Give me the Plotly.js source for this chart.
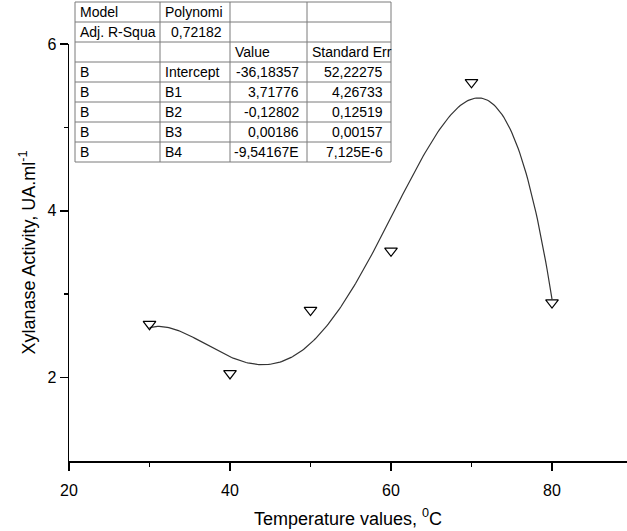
<!DOCTYPE html>
<html>
<head>
<meta charset="utf-8">
<script src="https://cdn.plot.ly/plotly-3.0.1.min.js"></script>
<style>html,body{margin:0;padding:0;background:#fff;}#chart{width:627px;height:531px;}</style>
</head>
<body>
<div id="chart"></div>
<script>
// Data
const temperature = [30, 40, 50, 60, 70, 80];
const activity = [2.64, 2.05, 2.81, 3.52, 5.54, 2.90];

const xTicks = [20, 40, 60, 80];
const xMinorTicks = [30, 50, 70];
const yTicks = [2, 4, 6];
const yMinorTicks = [3, 5];

// Fit parameter table (text as printed)
const tableCol1 = ["Model", "Adj. R-Squa", "", "B", "B", "B", "B", "B"];
const tableCol2 = ["Polynomi", "0,72182", "", "Intercept", "B1", "B2", "B3", "B4"];
const tableCol3 = ["", "", "Value", "-36,18357", "3,71776", "-0,12802", "0,00186", "-9,54167E"];
const tableCol4 = ["", "", "Standard Err", "52,22275", "4,26733", "0,12519", "0,00157", "7,125E-6"];

// 4th order polynomial least-squares fit of the data
function polyFit(xs, ys, deg, xc, xs_) {
  const n = deg + 1;
  const A = Array.from({length: n}, () => new Array(n + 1).fill(0));
  for (let k = 0; k < xs.length; k++) {
    const t = (xs[k] - xc) / xs_;
    const pw = [];
    for (let i = 0; i < n; i++) pw.push(Math.pow(t, i));
    for (let i = 0; i < n; i++) {
      for (let j = 0; j < n; j++) A[i][j] += pw[i] * pw[j];
      A[i][n] += pw[i] * ys[k];
    }
  }
  for (let i = 0; i < n; i++) {
    let p = i;
    for (let r = i + 1; r < n; r++) if (Math.abs(A[r][i]) > Math.abs(A[p][i])) p = r;
    [A[i], A[p]] = [A[p], A[i]];
    for (let r = 0; r < n; r++) {
      if (r === i) continue;
      const f = A[r][i] / A[i][i];
      for (let c = i; c <= n; c++) A[r][c] -= f * A[i][c];
    }
  }
  return A.map((row, i) => row[n] / row[i]);
}
const xc = 55, xsc = 25;
const coef = polyFit(temperature, activity, 4, xc, xsc);
const fitX = [], fitY = [];
const x0 = temperature[0], x1 = temperature[temperature.length - 1];
for (let i = 0; i <= 250; i++) {
  const x = x0 + (x1 - x0) * i / 250;
  const t = (x - xc) / xsc;
  let y = 0;
  for (let k = 0; k < coef.length; k++) y += coef[k] * Math.pow(t, k);
  fitX.push(x); fitY.push(y);
}

// Layout geometry (pixels)
const W = 627, H = 531;
const mL = 69, mR = 0, mT = 44, mB = 70;
const pw = W - mL - mR, ph = H - mT - mB;
const px = v => (v - mL) / pw;
const py = v => (H - mB - v) / ph;

const colEdges = [75, 160, 230, 307, 391];
const rowTop = 2, rowH = 20, nRows = tableCol1.length;
const shapes = [];
const annotations = [];
const gridColor = '#7a7a7a';
for (let r = 0; r <= nRows; r++) {
  const yy = rowTop + r * rowH;
  shapes.push({type: 'line', xref: 'paper', yref: 'paper', x0: px(colEdges[0]), x1: px(colEdges[colEdges.length - 1]), y0: py(yy), y1: py(yy), line: {color: gridColor, width: 1}});
}
for (let c = 0; c < colEdges.length; c++) {
  shapes.push({type: 'line', xref: 'paper', yref: 'paper', x0: px(colEdges[c]), x1: px(colEdges[c]), y0: py(rowTop), y1: py(rowTop + nRows * rowH), line: {color: gridColor, width: 1}});
}
const cols = [tableCol1, tableCol2, tableCol3, tableCol4];
const isNum = s => /^-?[0-9]/.test(s);
cols.forEach((col, c) => {
  col.forEach((txt, r) => {
    if (!txt) return;
    const right = isNum(txt);
    annotations.push({
      xref: 'paper', yref: 'paper', showarrow: false,
      x: right ? px(colEdges[c + 1] - 6) : px(colEdges[c] + 3),
      xanchor: right ? 'right' : 'left',
      y: py(rowTop + r * rowH + rowH / 2), yanchor: 'middle',
      text: txt, font: {family: 'Liberation Sans, Arial, sans-serif', size: 14, color: '#000'}
    });
  });
});

const traces = [
  {x: fitX, y: fitY, type: 'scatter', mode: 'lines', line: {color: '#333', width: 1.2}, hoverinfo: 'skip', showlegend: false},
  {x: temperature, y: activity, type: 'scatter', mode: 'markers', marker: {symbol: 'triangle-down-open', size: 11, color: '#000', line: {width: 1.2, color: '#000'}}, showlegend: false}
];

const axisFont = {family: 'Liberation Sans, Arial, sans-serif', size: 16, color: '#000'};
const layout = {
  width: W, height: H,
  margin: {l: mL, r: mR, t: mT, b: mB, pad: 0},
  paper_bgcolor: '#fff', plot_bgcolor: '#fff',
  font: axisFont,
  showlegend: false,
  xaxis: {
    range: [20, 20 + pw / 8.05], tickmode: 'array', tickvals: xTicks, ticktext: xTicks.map(String),
    ticks: 'outside', ticklen: 8, tickwidth: 1.5, tickcolor: '#000', ticklabelstandoff: 6,
    minor: {tickmode: 'array', tickvals: xMinorTicks, ticks: 'outside', ticklen: 4, tickwidth: 1.5, tickcolor: '#000'},
    showline: true, linecolor: '#000', linewidth: 1.5, mirror: false,
    showgrid: false, zeroline: false, tickfont: axisFont,
    title: {text: 'Temperature values, <sup>0</sup>C', font: {family: 'Liberation Sans, Arial, sans-serif', size: 18, color: '#000'}, standoff: 14}
  },
  yaxis: {
    range: [1, 6], tickmode: 'array', tickvals: yTicks, ticktext: yTicks.map(String),
    ticks: 'outside', ticklen: 8, tickwidth: 1.5, tickcolor: '#000',
    minor: {tickmode: 'array', tickvals: yMinorTicks, ticks: 'outside', ticklen: 4, tickwidth: 1.5, tickcolor: '#000'},
    showline: true, linecolor: '#000', linewidth: 1.5, mirror: false,
    showgrid: false, zeroline: false, tickfont: axisFont,
    title: {text: 'Xylanase Activity, UA.ml<sup>-1</sup>', font: {family: 'Liberation Sans, Arial, sans-serif', size: 18, color: '#000'}, standoff: 7}
  },
  shapes: shapes,
  annotations: annotations
};
Plotly.newPlot('chart', traces, layout, {staticPlot: true, displayModeBar: false});
</script>
</body>
</html>
